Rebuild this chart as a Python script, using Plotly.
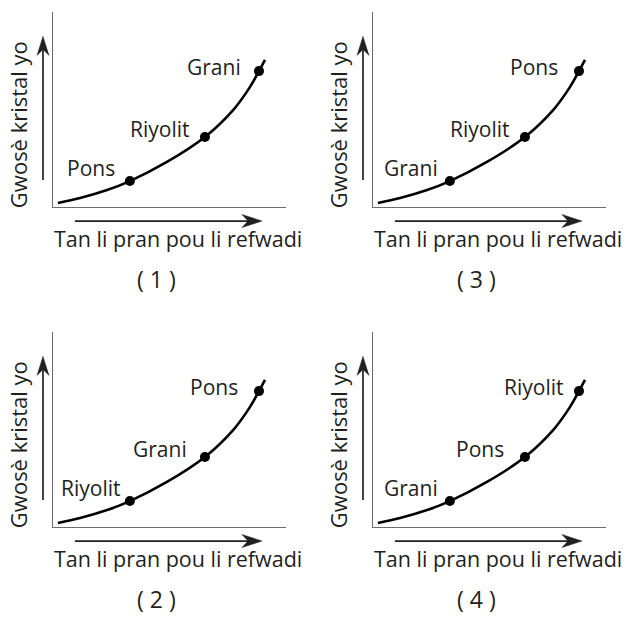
import plotly.graph_objects as go

# curve (time to cool vs crystal size, arbitrary units)
curve_time = [0.21, 1.16, 2.32, 3.30, 4.89, 6.52, 7.73, 8.45, 8.84, 9.10]
curve_size = [0.21, 0.46, 0.87, 1.33, 2.31, 3.59, 4.97, 6.15, 6.97, 7.54]

# the three dots on the curve
rock_time = [3.30, 6.52, 8.84]
rock_size = [1.33, 3.59, 6.97]

panel_names = ["( 1 )", "( 3 )", "( 2 )", "( 4 )"]
panel_rocks = [
    ["Pons", "Riyolit", "Grani"],
    ["Grani", "Riyolit", "Pons"],
    ["Riyolit", "Grani", "Pons"],
    ["Grani", "Pons", "Riyolit"],
]

x_title = "Tan li pran pou li refwadi"
y_title = "Gwosè kristal yo"

W, H = 634, 617
FONT = "Open Sans"
INK = "#231f20"

# pixel boxes of each small chart: left edge, bottom edge
boxes = [(53, 207), (373, 207), (53, 527), (373, 527)]
box_w, box_h = 233, 195

label_shift = [(-39, 13), (-45, 8), (-45, 4)]

# barbed arrow heads, in pixels around the tip
head_right = "M0,0 L-20,6.5 L-14,0 L-20,-6.5 Z"
head_up = "M0,0 L-6,-19 L0,-13 L6,-19 Z"

fig = go.Figure()

for i, (name, rocks) in enumerate(zip(panel_names, panel_rocks)):
    n = "" if i == 0 else str(i + 1)
    xa, ya = "x" + n, "y" + n
    left, bottom = boxes[i]

    fig.add_trace(go.Scatter(
        x=curve_time, y=curve_size, xaxis=xa, yaxis=ya,
        mode="lines", line=dict(color="black", width=2.6, shape="spline", smoothing=1.0),
        hoverinfo="skip", showlegend=False,
    ))
    fig.add_trace(go.Scatter(
        x=rock_time, y=rock_size, xaxis=xa, yaxis=ya,
        mode="markers", marker=dict(color="black", size=10),
        text=rocks, hoverinfo="text", showlegend=False,
    ))

    axis = dict(showgrid=False, zeroline=False, showticklabels=False, ticks="",
                showline=True, linecolor="#6d6d6d", linewidth=1.2, range=[0, 10],
                fixedrange=True)
    fig.layout["xaxis" + n] = dict(axis, anchor=ya,
                                   domain=[left / W, (left + box_w) / W])
    fig.layout["yaxis" + n] = dict(axis, anchor=xa,
                                   domain=[1 - bottom / H, 1 - (bottom - box_h) / H])

    # rock labels next to the dots
    for j, rock in enumerate(rocks):
        fig.add_annotation(x=rock_time[j], y=rock_size[j], xref=xa, yref=ya,
                           text=rock, showarrow=False,
                           xshift=label_shift[j][0], yshift=label_shift[j][1],
                           font=dict(family=FONT, size=21, color=INK))

    dx, dy = xa + " domain", ya + " domain"
    # arrows along the axes: shaft + filled head
    fig.add_shape(type="line", xref=dx, yref=dy, x0=-0.043, x1=-0.043, y0=0.138, y1=0.82,
                  line=dict(color=INK, width=1.7))
    fig.add_shape(type="path", xref=dx, yref=dy, xsizemode="pixel", ysizemode="pixel",
                  xanchor=-0.043, yanchor=0.875, path=head_up,
                  fillcolor=INK, line=dict(color=INK, width=0.5))
    fig.add_shape(type="line", xref=dx, yref=dy, x0=0.094, x1=0.85, y0=-0.072, y1=-0.072,
                  line=dict(color=INK, width=1.7))
    fig.add_shape(type="path", xref=dx, yref=dy, xsizemode="pixel", ysizemode="pixel",
                  xanchor=0.897, yanchor=-0.072, path=head_right,
                  fillcolor=INK, line=dict(color=INK, width=0.5))

    fig.add_annotation(x=0.536, y=-0.164, xref=dx, yref=dy, text=x_title,
                       showarrow=False, xanchor="center", yanchor="middle",
                       font=dict(family=FONT, size=21.5, color=INK))
    fig.add_annotation(x=-0.150, y=0.42, xref=dx, yref=dy, text=y_title,
                       showarrow=False, textangle=-90, xanchor="center", yanchor="middle",
                       font=dict(family=FONT, size=22, color=INK))
    fig.add_annotation(x=0.446, y=-0.369, xref=dx, yref=dy, text=name,
                       showarrow=False, xanchor="center", yanchor="middle",
                       font=dict(family=FONT, size=23, color=INK))

fig.update_layout(
    width=W, height=H,
    margin=dict(l=0, r=0, t=0, b=0),
    plot_bgcolor="white", paper_bgcolor="white",
)

# the page body has an 8px margin by default; drop it so the figure fills the window
fig.write_html("out.html", config={"displayModeBar": False},
               post_script="document.body.style.margin='0';")
